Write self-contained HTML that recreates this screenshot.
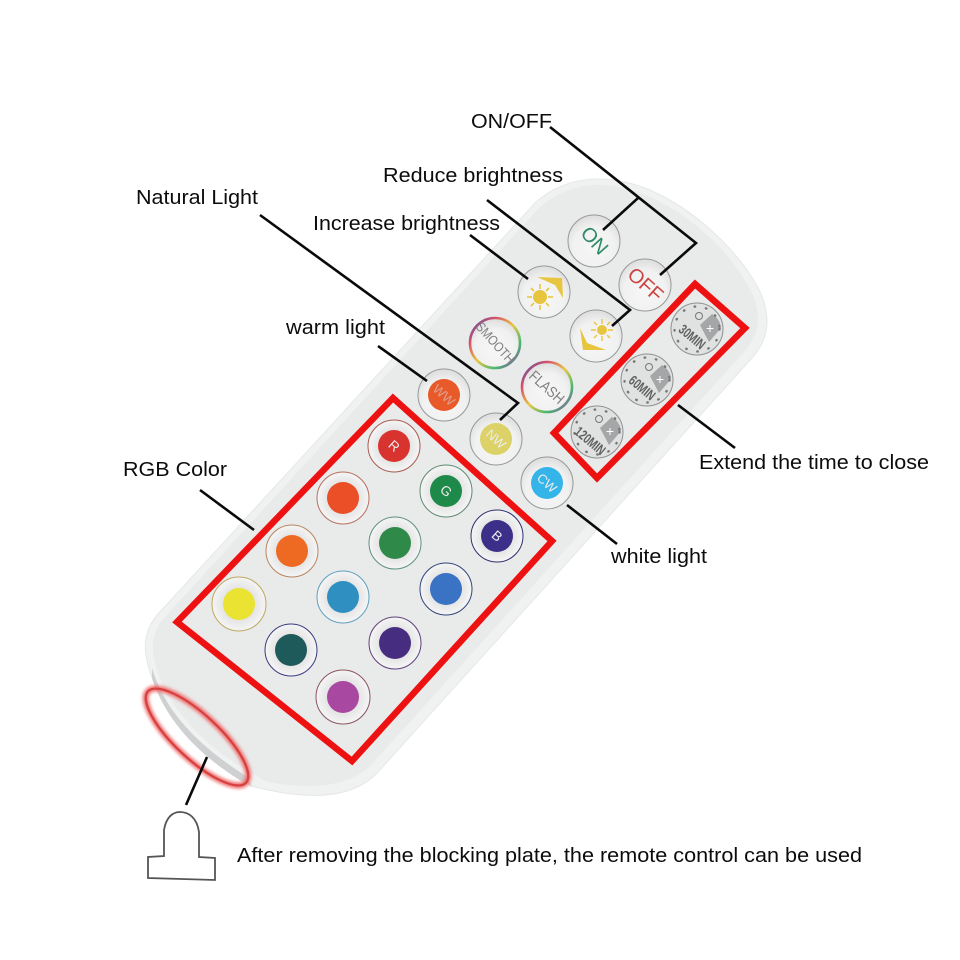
<!DOCTYPE html>
<html><head><meta charset="utf-8"><style>
html,body{margin:0;padding:0;background:#fff}
svg{display:block}
text{font-family:"Liberation Sans",sans-serif}
.l{font-size:20.5px;fill:#0c0c0c}
.b{text-anchor:middle;dominant-baseline:central}
</style></head><body>
<svg width="960" height="960" viewBox="0 0 960 960" xmlns="http://www.w3.org/2000/svg">
<defs>
<radialGradient id="btn" cx="50%" cy="62%" r="58%"><stop offset="0" stop-color="#f6f7f6"/><stop offset=".7" stop-color="#f0f1f0"/><stop offset="1" stop-color="#dfe0df"/></radialGradient>
<radialGradient id="w" cx="50%" cy="50%" r="50%"><stop offset=".6" stop-color="#e4e5e4"/><stop offset="1" stop-color="#f4f5f4"/></radialGradient>
<linearGradient id="rb" x1="0" y1="0" x2="1" y2="1"><stop offset="0" stop-color="#3f4fb0"/><stop offset=".25" stop-color="#d8506a"/><stop offset=".5" stop-color="#e8c840"/><stop offset=".75" stop-color="#48b870"/><stop offset="1" stop-color="#a040b0"/></linearGradient>
<filter id="gl" x="-20%" y="-20%" width="140%" height="140%"><feGaussianBlur stdDeviation="1.6"/></filter>
</defs>

<!-- remote body -->
<path d="M536 202C566 176 606 172 650 190C700 212 745 258 762 296C771 320 768 340 752 358L378 772C355 797 315 800 268 790L250 786C205 760 165 718 150 672C142 648 144 630 158 614Z" fill="#f0f1f1" stroke="#e6e7e7" stroke-width="1"/>
<path d="M540 207C570 182 606 178 648 196C696 217 738 260 754 298C762 320 758 336 744 352L372 764C350 787 312 790 268 782C215 756 172 716 157 670C150 648 152 632 164 618Z" fill="#e9eaea"/>
<path d="M152 668C166 716 205 750 246 776L252 786L240 780C200 756 165 720 152 678Z" fill="#cfd0d1"/>

<!-- buttons -->
<g fill="url(#btn)" stroke="#969997" stroke-width="1">
<circle cx="594" cy="241" r="26"/><circle cx="645" cy="285" r="26"/>
<circle cx="544" cy="292" r="26"/><circle cx="596" cy="336" r="26"/>
<circle cx="444" cy="395" r="26"/><circle cx="496" cy="439" r="26"/><circle cx="547" cy="483" r="26"/>
</g>
<g fill="#e0e1e1" stroke="#8e9190" stroke-width="1">
<circle cx="697" cy="329" r="26"/><circle cx="647" cy="380" r="26"/><circle cx="597" cy="432" r="26"/>
</g>
<g fill="url(#btn)" stroke="url(#rb)" stroke-width="2.6"><circle cx="495" cy="343" r="25"/><circle cx="547" cy="387" r="25"/></g>
<text class="b" transform="translate(594 241) rotate(48)" style="font-size:20px" fill="#2f8a66">ON</text>
<text class="b" transform="translate(645 285) rotate(42)" style="font-size:20px" fill="#cc4444">OFF</text>
<text class="b" transform="translate(495 343) rotate(48) scale(.85 1)" style="font-size:13.5px" fill="#808080">SMOOTH</text>
<text class="b" transform="translate(547 387) rotate(42) scale(.85 1)" style="font-size:15px" fill="#808080">FLASH</text>
<!-- suns -->
<g fill="#e8c53e" stroke="#e8c53e">
<circle cx="540" cy="297" r="6.5"/>
<path d="M540 284v5M540 305v5M527 297h5M548 297h5M531 288l3 3M546 303l3 3M549 288l-3 3M534 303l-3 3" stroke-width="1.6" fill="none"/>
<path d="M537 277L562 278L563 298L555 285Z" stroke="none"/>
<circle cx="602" cy="330" r="4.5"/>
<path d="M602 319v5M602 336v5M591 330h5M608 330h5M594 322l3 3M607 335l3 3M610 322l-3 3M597 335l-3 3" stroke-width="1.4" fill="none"/>
<path d="M580 328L587 343L606 350L583 350Z" stroke="none"/>
</g>
<!-- timers -->
<g fill="#a4a6a7">
<path d="M700 325L712 314Q720 319 721 328L709 342Z"/>
<path d="M650 376L662 365Q670 370 671 379L659 393Z"/>
<path d="M600 428L612 417Q620 422 621 431L609 445Z"/>
</g>
<g fill="#fff" style="font-size:14px">
<text class="b" x="710" y="328" style="font-size:14px">+</text><text class="b" x="660" y="379" style="font-size:14px">+</text><text class="b" x="610" y="431" style="font-size:14px">+</text>
</g>
<g fill="none" stroke="#777" stroke-width="1">
<circle cx="699" cy="316" r="3.5"/><circle cx="649" cy="367" r="3.5"/><circle cx="599" cy="419" r="3.5"/>
</g>
<g fill="none" stroke="#777" stroke-width="2.4" stroke-dasharray="0.5 11" stroke-linecap="round">
<circle cx="697" cy="329" r="22.5"/><circle cx="647" cy="380" r="22.5"/><circle cx="597" cy="432" r="22.5"/>
</g>
<g fill="#606060" font-weight="bold">
<text class="b" transform="translate(692 337) rotate(40) scale(.72 1)" style="font-size:14px">30MIN</text>
<text class="b" transform="translate(642 388) rotate(40) scale(.72 1)" style="font-size:14px">60MIN</text>
<text class="b" transform="translate(590 441) rotate(40) scale(.72 1)" style="font-size:14px">120MIN</text>
</g>

<!-- color buttons -->
<g fill="url(#w)" stroke-width="1">
<circle cx="394" cy="446" r="26" stroke="#a85a50"/>
<circle cx="446" cy="491" r="26" stroke="#5f8a70"/>
<circle cx="497" cy="536" r="26" stroke="#2f2f70"/>
<circle cx="343" cy="498" r="26" stroke="#b8705f"/>
<circle cx="395" cy="543" r="26" stroke="#5f9080"/>
<circle cx="446" cy="589" r="26" stroke="#33447a"/>
<circle cx="292" cy="551" r="26" stroke="#b88560"/>
<circle cx="343" cy="597" r="26" stroke="#60a0c0"/>
<circle cx="395" cy="643" r="26" stroke="#60407a"/>
<circle cx="239" cy="604" r="27" stroke="#c0a860"/>
<circle cx="291" cy="650" r="26" stroke="#3a3a80"/>
<circle cx="343" cy="697" r="27" stroke="#8a5560"/>
</g>
<circle cx="394" cy="446" r="16" fill="#d8332f"/>
<circle cx="446" cy="491" r="16" fill="#1e8a4a"/>
<circle cx="497" cy="536" r="16" fill="#3b2f8a"/>
<circle cx="343" cy="498" r="16" fill="#ea4f28"/>
<circle cx="395" cy="543" r="16" fill="#2f8a4a"/>
<circle cx="446" cy="589" r="16" fill="#3a72c4"/>
<circle cx="292" cy="551" r="16" fill="#ee6a22"/>
<circle cx="343" cy="597" r="16" fill="#2f8fc0"/>
<circle cx="395" cy="643" r="16" fill="#472d80"/>
<circle cx="239" cy="604" r="16" fill="#ebe332"/>
<circle cx="291" cy="650" r="16" fill="#1f5a5a"/>
<circle cx="343" cy="697" r="16" fill="#a848a0"/>
<circle cx="444" cy="395" r="16" fill="#e85a2a"/>
<circle cx="496" cy="439" r="16" fill="#dcd268"/>
<circle cx="547" cy="483" r="16" fill="#35b4ea"/>
<g fill="#ececec">
<text class="b" transform="translate(394 446) rotate(42)" style="font-size:13.5px">R</text>
<text class="b" transform="translate(446 491) rotate(42)" style="font-size:13.5px">G</text>
<text class="b" transform="translate(497 536) rotate(42)" style="font-size:13.5px">B</text>
<text class="b" transform="translate(444 395) rotate(42)" style="font-size:13px" fill="#e0a090">WW</text>
<text class="b" transform="translate(496 439) rotate(42)" style="font-size:13px">NW</text>
<text class="b" transform="translate(547 483) rotate(42)" style="font-size:13px">CW</text>
</g>

<!-- red boxes -->
<g fill="none" stroke="#ee1111" stroke-width="6.5" stroke-linejoin="miter">
<polygon points="393,398 552,541 352,761 177,622"/>
<polygon points="695,284 745,328 597,478 554,433"/>
</g>

<!-- ellipse -->
<ellipse cx="197" cy="737" rx="67" ry="22" transform="rotate(43 197 737)" fill="none" stroke="#ee7070" stroke-width="6" filter="url(#gl)"/>
<ellipse cx="197" cy="737" rx="67" ry="22" transform="rotate(43 197 737)" fill="none" stroke="#d84040" stroke-width="2.2"/>

<!-- leader lines -->
<g fill="none" stroke="#0a0a0a" stroke-width="2.6" stroke-linejoin="miter">
<path d="M550 127L696 243L660 275"/>
<path d="M638 198L603 230"/>
<path d="M487 200L630 310L612 326"/>
<path d="M260 215L518 403L500 420"/>
<path d="M470 235L528 279"/>
<path d="M378 346L427 381"/>
<path d="M200 490L254 530"/>
<path d="M678 405L735 448"/>
<path d="M567 505L617 544"/>
<path d="M207 757L186 805"/>
</g>

<!-- plate -->
<path d="M148 878L148 857L164 856L164 830C166 818 172 812 180 812C189 812 197 818 199 832L199 857L215 858L215 880L148 878Z" fill="none" stroke="#555" stroke-width="1.8"/>

<!-- labels -->
<text class="l" x="471" y="128" textLength="81" lengthAdjust="spacingAndGlyphs">ON/OFF</text>
<text class="l" x="383" y="182" textLength="180" lengthAdjust="spacingAndGlyphs">Reduce brightness</text>
<text class="l" x="136" y="204" textLength="122" lengthAdjust="spacingAndGlyphs">Natural Light</text>
<text class="l" x="313" y="230" textLength="187" lengthAdjust="spacingAndGlyphs">Increase brightness</text>
<text class="l" x="286" y="334" textLength="99" lengthAdjust="spacingAndGlyphs">warm light</text>
<text class="l" x="123" y="476" textLength="104" lengthAdjust="spacingAndGlyphs">RGB Color</text>
<text class="l" x="699" y="469" textLength="230" lengthAdjust="spacingAndGlyphs">Extend the time to close</text>
<text class="l" x="611" y="563" textLength="96" lengthAdjust="spacingAndGlyphs">white light</text>
<text class="l" x="237" y="862" textLength="625" lengthAdjust="spacingAndGlyphs">After removing the blocking plate, the remote control can be used</text>
</svg>
</body></html>
